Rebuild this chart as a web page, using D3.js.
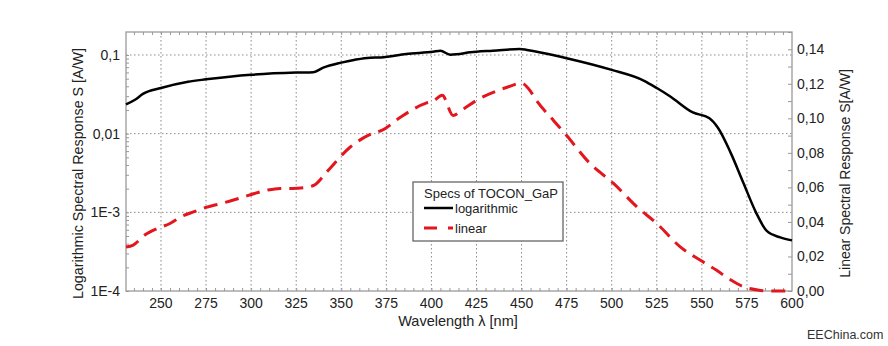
<!DOCTYPE html>
<html>
<head>
<meta charset="utf-8">
<script src="https://cdn.jsdelivr.net/npm/d3@7"></script>
<style>
  body { margin: 0; background: #fff; }
  text { font-family: "Liberation Sans", Arial, sans-serif; fill: #222; }
</style>
</head>
<body>
<div id="wrapper"></div>
<script>
// wavelength [nm] and response [A/W]
const logWavelengths = [230.6, 235.6, 240, 250, 265, 275, 300, 325, 334.5, 340, 350, 357, 366, 372, 386, 401, 405, 410.4, 414, 421.5, 425, 434, 449, 453, 475, 500, 518, 525, 532.5, 545, 554, 559, 566, 573, 580, 586, 593.5, 600];
const logValues = [0.0236, 0.027, 0.032, 0.038, 0.0457, 0.049, 0.056, 0.0597, 0.0604, 0.069, 0.080, 0.0865, 0.0925, 0.093, 0.103, 0.110, 0.113, 0.101, 0.102, 0.108, 0.110, 0.113, 0.119, 0.116, 0.091, 0.0646, 0.047, 0.038, 0.0297, 0.0186, 0.0158, 0.0118, 0.0057, 0.00238, 0.001, 0.00058, 0.00048, 0.00044];

const linWavelengths = [230.6, 234.6, 241, 248, 255, 262, 268, 275, 282, 288, 295, 303, 309, 316, 323, 330, 335, 342, 355, 368, 372.5, 383, 397, 401, 406, 412, 418, 425, 442, 450, 454, 458.5, 467.7, 475, 488, 501, 514, 525, 538, 549, 558, 566, 573, 581, 588, 600];
const linValues = [0.0255, 0.0266, 0.0324, 0.0362, 0.0391, 0.0434, 0.0458, 0.0484, 0.0503, 0.052, 0.0542, 0.0568, 0.0584, 0.0594, 0.0594, 0.060, 0.0613, 0.069, 0.0834, 0.0915, 0.093, 0.1008, 0.1088, 0.110, 0.1133, 0.1017, 0.1056, 0.1104, 0.118, 0.1204, 0.117, 0.110, 0.0988, 0.090, 0.0738, 0.0623, 0.0487, 0.0391, 0.0256, 0.0179, 0.0121, 0.0064, 0.0025, 0.0006, 0, 0];

const xTicks = [250, 275, 300, 325, 350, 375, 400, 425, 450, 475, 500, 525, 550, 575, 600];
const logTicks = [1e-4, 1e-3, 0.01, 0.1];
const logTickLabels = ['1E-4', '1E-3', '0,01', '0,1'];
const linTicks = [0, 0.02, 0.04, 0.06, 0.08, 0.10, 0.12, 0.14];
const linTickLabels = ['0,00', '0,02', '0,04', '0,06', '0,08', '0,10', '0,12', '0,14'];

const seriesNames = ['logarithmic', 'linear'];
const legendTitle = 'Specs of TOCON_GaP';

function drawChart() {
  const logData = logWavelengths.map((w, i) => ({ w, v: logValues[i] }));
  const linData = linWavelengths.map((w, i) => ({ w, v: linValues[i] }));
  const xAccessor = d => d.w;
  const yAccessor = d => d.v;

  let dimensions = {
    width: 888,
    height: 346,
    margins: { top: 32, right: 96, bottom: 55, left: 126 }
  };
  dimensions.boundedWidth = dimensions.width - dimensions.margins.left - dimensions.margins.right;
  dimensions.boundedHeight = dimensions.height - dimensions.margins.top - dimensions.margins.bottom;

  const wrapper = d3.select('#wrapper')
    .append('svg')
      .attr('width', dimensions.width)
      .attr('height', dimensions.height);

  const bounds = wrapper.append('g')
      .attr('transform', `translate(${dimensions.margins.left},${dimensions.margins.top})`);

  const W = dimensions.boundedWidth;
  const H = dimensions.boundedHeight;

  const xScale = d3.scaleLinear().domain([230.6, 600]).range([0, W]);
  const yLog = d3.scaleLog().domain([1e-4, 0.196]).range([H, 0]);
  const yLin = d3.scaleLinear().domain([0, 0.15]).range([H, 0]);

  // dotted grid
  const grid = bounds.append('g')
      .attr('stroke', '#8a8a8a')
      .attr('stroke-width', 1)
      .attr('stroke-dasharray', '1.5,2.5');
  grid.selectAll('.vgrid')
    .data(xTicks.filter(t => t < 600))
    .join('line')
      .attr('x1', d => xScale(d)).attr('x2', d => xScale(d))
      .attr('y1', 0).attr('y2', H);
  grid.selectAll('.hgrid')
    .data(logTicks.filter(t => t > 1e-4))
    .join('line')
      .attr('x1', 0).attr('x2', W)
      .attr('y1', d => yLog(d)).attr('y2', d => yLog(d));

  // axes with inward ticks
  const minorX = d3.range(235, 600, 5);
  const logMinor = [];
  for (let e = -4; e <= -1; e++) {
    for (let m = 2; m <= 9; m++) {
      const v = m * Math.pow(10, e);
      if (v < 0.196) logMinor.push(v);
    }
  }
  logMinor.push(...logTicks);
  const linMinor = d3.range(0, 0.151, 0.01);

  const xAxisBottom = bounds.append('g')
      .attr('class', 'x-axis')
      .attr('transform', `translate(0,${H})`)
      .call(d3.axisTop(xScale).tickValues(minorX).tickSize(3).tickFormat(''));
  const xAxisTop = bounds.append('g')
      .call(d3.axisBottom(xScale).tickValues(minorX).tickSize(3).tickFormat(''));
  const yAxisLeft = bounds.append('g')
      .call(d3.axisRight(yLog).tickValues(logMinor).tickSize(3).tickFormat(''));
  const yAxisRight = bounds.append('g')
      .attr('transform', `translate(${W},0)`)
      .call(d3.axisLeft(yLin).tickValues(linMinor).tickSize(4).tickFormat(''));

  [xAxisBottom, xAxisTop, yAxisLeft, yAxisRight].forEach(a => {
    a.select('.domain').remove();
    a.selectAll('line').attr('stroke', '#999');
  });

  bounds.append('rect')
      .attr('width', W)
      .attr('height', H)
      .attr('fill', 'none')
      .attr('stroke', '#9a9a9a')
      .attr('stroke-width', 1.3);

  // tick labels
  bounds.selectAll('.xlab')
    .data(xTicks)
    .join('text')
      .attr('x', d => xScale(d))
      .attr('y', H + 17)
      .attr('text-anchor', 'middle')
      .style('font-size', '14px')
      .text(d => d);

  bounds.selectAll('.loglab')
    .data(logTicks)
    .join('text')
      .attr('x', -6)
      .attr('y', d => yLog(d) + 5)
      .attr('text-anchor', 'end')
      .style('font-size', '14px')
      .text((d, i) => logTickLabels[i]);

  bounds.selectAll('.linlab')
    .data(linTicks)
    .join('text')
      .attr('x', W + 5)
      .attr('y', d => yLin(d) + 5)
      .style('font-size', '14px')
      .text((d, i) => linTickLabels[i]);

  // lines
  const logLine = d3.line()
      .x(d => xScale(xAccessor(d)))
      .y(d => yLog(yAccessor(d)))
      .curve(d3.curveMonotoneX);
  const linLine = d3.line()
      .x(d => xScale(xAccessor(d)))
      .y(d => yLin(yAccessor(d)))
      .curve(d3.curveMonotoneX);

  bounds.append('path')
      .attr('d', linLine(linData))
      .attr('fill', 'none')
      .attr('stroke', '#e3161e')
      .attr('stroke-width', 3)
      .attr('stroke-dasharray', '14,8');

  bounds.append('path')
      .attr('d', logLine(logData))
      .attr('fill', 'none')
      .attr('stroke', '#000')
      .attr('stroke-width', 2.5);

  // axis titles
  wrapper.append('text')
      .attr('transform', `translate(83,${dimensions.margins.top + H / 2 + 12}) rotate(-90)`)
      .attr('text-anchor', 'middle')
      .style('font-size', '14.3px')
      .text('Logarithmic Spectral Response S [A/W]');

  wrapper.append('text')
      .attr('transform', `translate(850,${dimensions.margins.top + H / 2 + 12}) rotate(-90)`)
      .attr('text-anchor', 'middle')
      .style('font-size', '14px')
      .text('Linear Spectral Response S[A/W]');

  wrapper.append('text')
      .attr('x', 458)
      .attr('y', 326)
      .attr('text-anchor', 'middle')
      .style('font-size', '14.5px')
      .text('Wavelength λ [nm]');

  // legend
  const legend = wrapper.append('g')
      .attr('transform', 'translate(413,182)');
  legend.append('rect')
      .attr('width', 150)
      .attr('height', 59)
      .attr('fill', '#fff')
      .attr('stroke', '#666')
      .attr('stroke-width', 1.3);
  legend.append('text')
      .attr('x', 11)
      .attr('y', 16)
      .style('font-size', '13px')
      .text(legendTitle);
  const styles = [
    { stroke: '#000', width: 2.5, dash: null },
    { stroke: '#e3161e', width: 3, dash: '13,11' }
  ];
  seriesNames.forEach((name, i) => {
    const y = 26 + i * 20;
    legend.append('line')
        .attr('x1', 11).attr('x2', 40)
        .attr('y1', y).attr('y2', y)
        .attr('stroke', styles[i].stroke)
        .attr('stroke-width', styles[i].width)
        .attr('stroke-dasharray', styles[i].dash);
    legend.append('text')
        .attr('x', 42)
        .attr('y', y + 5)
        .style('font-size', '13px')
        .text(name);
  });

  // watermark
  wrapper.append('text')
      .attr('x', 807)
      .attr('y', 339)
      .style('font-size', '12.5px')
      .style('fill', '#333')
      .text('EEChina.com');
}

drawChart();
</script>
</body>
</html>
